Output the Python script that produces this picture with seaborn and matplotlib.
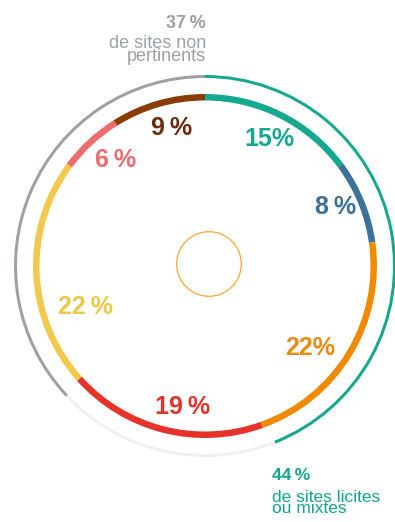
import matplotlib
matplotlib.use("Agg")
import matplotlib.pyplot as plt
import seaborn as sns

# ---- data ----
categories = ["teal", "bleu", "orange", "rouge", "jaune", "rose", "brun"]
shares = [15, 8, 22, 19, 22, 6, 9]
share_labels = ["15%", "8\u2009%", "22%", "19\u2009%", "22\u2009%", "6\u2009%", "9\u2009%"]
group_names = ["licites ou mixtes", "autres", "non pertinents"]
group_shares = [44, 19, 37]
lbl_nonpert_pct = "37\u2009%"
lbl_nonpert = ["de sites non", "pertinents"]
lbl_licit_pct = "44\u2009%"
lbl_licit = ["de sites licites", "ou mixtes"]

# ---- style ----
sns.set_theme(style="white")
plt.rcParams["font.family"] = ["Liberation Sans", "DejaVu Sans"]

arc_colors = sns.color_palette(["#14a98f", "#3a7299", "#f08a00", "#e5332a",
                                "#f2c94c", "#ee6c6e", "#8a3b06"])
text_colors = ["#16a88f", "#3b7099", "#ee8a12", "#e3322b", "#f0c649", "#ec6b70", "#6e2b0c"]
group_colors = ["#14a98f", "#f0f0f0", "#9ba1a5"]
gray = "#9ba1a5"
teal = "#13a68f"

W, H = 395, 522
fig = plt.figure(figsize=(W / 100, H / 100), dpi=100)
ax = fig.add_axes([0, 0, 1, 1])

cx, cy = 205, H - 266

# inner ring
ax.pie(shares, radius=172, center=(cx, cy), startangle=90, counterclock=False,
       colors=arc_colors, wedgeprops=dict(width=6.5, linewidth=0))
# outer ring
ax.pie(group_shares, radius=191, center=(cx, cy), startangle=90, counterclock=False,
       colors=group_colors, wedgeprops=dict(width=3, linewidth=0))
# small centre circle
ax.pie([1], radius=33, center=(209, H - 264), colors=["#f7b040"],
       wedgeprops=dict(width=1.4, linewidth=0))

ax.set_xlim(0, W)
ax.set_ylim(0, H)
ax.set_aspect("equal")
ax.axis("off")

# segment labels (pixel positions of label centres)
label_pos = [(269, 139), (336, 207), (310, 348), (183, 407), (86, 307), (116, 160), (172, 128)]
for txt, (x, y), c in zip(share_labels, label_pos, text_colors):
    ax.text(x, H - y, txt, ha="center", va="center", fontsize=18,
            fontweight="bold", color=c)

# top-left annotation
ax.text(206, H - 28, lbl_nonpert_pct, ha="right", va="baseline", fontsize=13,
        fontweight="bold", color=gray)
ax.text(206, H - 61, "\n".join(lbl_nonpert), ha="right", va="baseline",
        multialignment="right", linespacing=0.67, fontsize=13, color=gray)

# bottom-right annotation
ax.text(272, H - 480, lbl_licit_pct, ha="left", va="baseline", fontsize=12.5,
        fontweight="bold", color=teal)
ax.text(272, H - 513, "\n".join(lbl_licit), ha="left", va="baseline",
        multialignment="left", linespacing=0.65, fontsize=12.5, color=teal)

fig.savefig("out.png", dpi=100, facecolor="white")
